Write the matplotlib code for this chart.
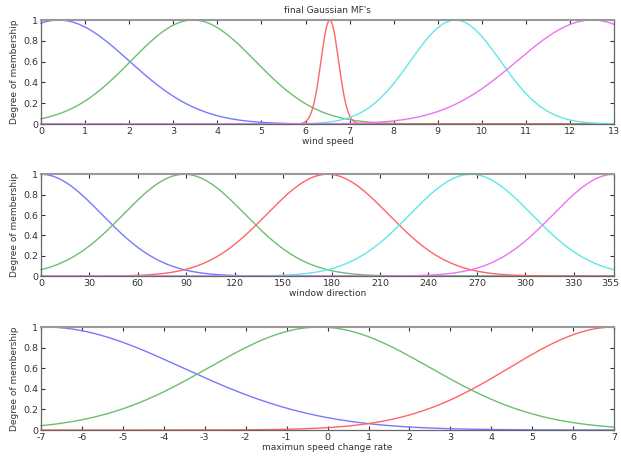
import numpy as np
import matplotlib
matplotlib.use("Agg")
import matplotlib.pyplot as plt
import matplotlib.transforms as mtransforms

# Gaussian membership-function parameters
speed_centers = [0.4, 3.45, 6.55, 9.4, 12.5]
speed_sigmas = [1.6, 1.41, 0.2, 1.02, 1.7]
dir_centers = [0, 88.75, 177.5, 266.25, 355]
dir_sigmas = [37.7, 37.7, 37.7, 37.7, 37.7]
rate_centers = [-6.9, -0.2, 7.0]
rate_sigmas = [3.35, 2.7, 2.55]

speed_ticks = list(range(0, 14))
dir_ticks = [0, 30, 60, 90, 120, 150, 180, 210, 240, 270, 300, 330, 355]
rate_ticks = list(range(-7, 8))
y_ticks = [0, 0.2, 0.4, 0.6, 0.8, 1]
y_labels = ["0", "0.2", "0.4", "0.6", "0.8", "1"]

colors = ["#7878ff", "#6cbf6c", "#ff6464", "#5ee8e8", "#ee72ee"]

fig = plt.figure(figsize=(6.21, 4.61), dpi=100)
fig.patch.set_facecolor("white")

specs = [
    (speed_centers, speed_sigmas, (0, 13), speed_ticks, "wind speed", [0.066, 0.731, 0.923, 0.2256]),
    (dir_centers, dir_sigmas, (0, 355), dir_ticks, "window direction", [0.066, 0.401, 0.923, 0.221]),
    (rate_centers, rate_sigmas, (-7, 7), rate_ticks, "maximun speed change rate", [0.066, 0.0672, 0.923, 0.2234]),
]

axes = []
for centers, sigmas, (lo, hi), ticks, xlabel, pos in specs:
    ax = fig.add_axes(pos)
    x = np.linspace(lo, hi, 400)
    for i, (c, s) in enumerate(zip(centers, sigmas)):
        y = np.exp(-((x - c) ** 2) / (2 * s ** 2))
        ax.plot(x, y, color=colors[i], lw=1.0, clip_on=False)
    ax.set_xlim(lo, hi)
    ax.set_ylim(0, 1)
    ax.set_xticks(ticks)
    ax.set_xticklabels([str(t) for t in ticks])
    ax.set_yticks(y_ticks)
    ax.set_yticklabels(y_labels)
    ax.tick_params(direction="in", length=3, width=0.8, labelsize=6.8,
                   top=True, right=True, pad=2, colors="#333333")
    for sp in ax.spines.values():
        sp.set_color("#666666")
        sp.set_linewidth(0.9)
    ax.spines["top"].set_color("#999999")
    ax.spines["top"].set_linewidth(1.5)
    ax.set_xlabel(xlabel, fontsize=6.5, labelpad=1, color="#333333")
    ax.set_ylabel("Degree of membership", fontsize=6.5, labelpad=3, color="#333333")
    axes.append(ax)

# nudge the last direction label so it stays inside the figure
fig.canvas.draw()
last = axes[1].get_xticklabels()[-1]
last.set_transform(last.get_transform() +
                   mtransforms.ScaledTranslation(-4 / 100, 0, fig.dpi_scale_trans))

axes[0].set_title("final Gaussian MF's", fontsize=6.5, pad=5, color="#333333")

fig.savefig("out.png", dpi=100)
